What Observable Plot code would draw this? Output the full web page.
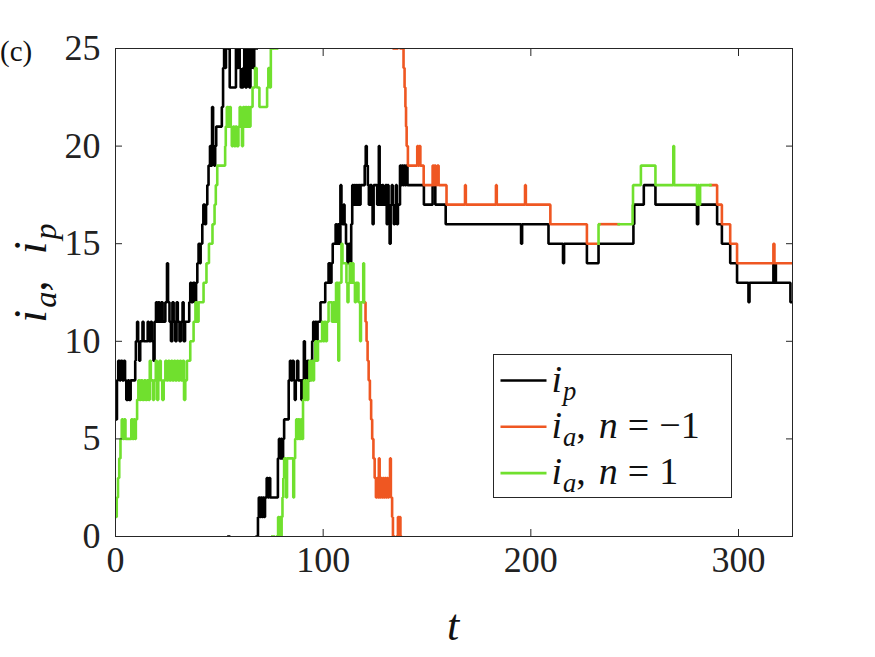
<!DOCTYPE html>
<html>
<head>
<meta charset="utf-8">
<script src="https://cdn.jsdelivr.net/npm/d3@7"></script>
<script src="https://cdn.jsdelivr.net/npm/@observablehq/plot@0.6"></script>
<style>
  body { margin: 0; background: #fff; }
  #chart { width: 875px; height: 657px; }
  svg text { white-space: pre; }
</style>
</head>
<body>
<div id="chart"></div>
<script>
// Tick positions
const xTicks = [0, 100, 200, 300];
const yTicks = [0, 5, 10, 15, 20, 25];

// i_p: times at which the index changes, and the new index (index wraps 25 <-> 0)
const ipT = [0,0.7,1.3,2,2.5,3.3,4,4.6,5.2,6,6.5,7.3,9.5,9.8,10.4,10.9,11.4,11.9,13,13.5,15.5,16,17,17.5,18.3,18.8,19.5,20,20.6,21.2,22,22.7,24,24.8,25.3,26,26.7,27.4,28,28.8,29.4,30,30.8,31.5,32.3,32.8,33.5,35.5,36,36.5,37.3,38.2,38.8,39.4,40,40.6,41,41.8,42.3,43,43.6,44.2,44.8,45.5,46,46.5,47,47.5,48,48.5,51.2,51.8,52.3,52.8,53.2,54.4,54.7,55,58,58.6,59.2,59.8,60.3,61.5,62,62.6,63.2,63.8,64.4,65,65.5,66.2,66.8,
  68,68.6,69,69.5,70,70.5,71,71.5,72,72.8,73.4,74,74.5,78.2,78.7,79.2,79.7,80.2,80.7,81.2,83.4,84,84.6,85.2,85.8,86.3,86.8,87.4,88,89.5,90,90.7,91.2,91.8,92.4,93,93.7,94.7,95.2,95.7,96.2,96.8,97.3,98.7,101,102.6,103.5,104,104.6,106,106.5,107,107.5,108.3,108.8,109.3,109.8,110.3,111,111.7,112.3,112.8,113.5,114,114.5,115,115.5,116,116.5,117,117.6,118,120,120.5,121,121.5,122,122.5,123.4,123.8,124.3,126,126.8,127.2,127.8,128.4,129,130,130.6,131,131.5,132,132.5,133,133.5,134,134.5,135,135.5,136,137,137.5,138,138.5,139,139.5,140,140.6,148.5,152.7,154,159,195.3,195.8,208.5,215.5,216,227,232.6,249.4,249.8,254.4,260,280,280.6,289.7,292,296,299.3,304.8,305.3,316.8,317.2,317.6,318,325,326];
const ipV = [6,8,9,8,9,8,9,8,7,8,7,8,9,10,11,10,9,10,11,10,11,10,11,10,9,11,12,11,12,11,12,11,12,14,12,11,10,12,11,10,12,11,10,11,12,10,11,12,13,12,13,12,13,14,15,14,15,16,17,16,17,18,19,20,19,22,20,19,20,21,22,24,25,24,25,0,25,23,25,24,25,24,23,24,25,23,24,25,23,24,25,24,25,
  0,1,2,1,2,1,2,1,2,3,2,3,2,4,5,4,5,4,5,6,8,9,8,9,8,7,8,9,8,7,8,10,9,8,9,8,9,10,11,10,11,10,11,12,13,14,13,14,15,16,15,16,15,18,17,16,17,16,15,14,15,14,16,18,17,18,17,18,17,18,17,18,19,20,19,18,17,18,17,16,18,17,20,18,17,18,17,18,16,18,17,15,17,18,17,16,17,18,16,17,19,18,19,18,19,18,19,18,17,18,17,16,15,16,15,14,15,14,15,16,17,18,17,16,17,16,15,14,13,12,13,14,13,14,13,12,12];

// i_a: change times, index, and direction n (+1 or -1)
const iaT = [0,0.6,1.2,1.8,2.4,3,3.6,4.2,4.8,7.6,8.2,8.8,9.4,9.8,10.4,11,11.6,12.2,13,13.8,14.5,15.2,16,16.5,17,18,18.6,19.4,20,20.6,21.2,21.8,22.5,23.2,24,24.6,25.4,26,26.8,27.4,28.2,28.8,29.6,30.2,31,31.6,32.4,33,33.6,34.4,36,37.6,38.5,39.2,40,42.4,43.8,45,46.7,47.7,48.3,49,52.8,53.1,53.6,54.3,55,55.5,56,56.6,57.2,57.8,58.4,59.2,59.8,60.4,60.9,61.4,62,62.6,63.2,63.8,64.4,65,66,67.2,68,69.3,73,73.6,74.2,74.8,75.5,76.2,77.8,
  78.3,78.7,79.2,79.6,80,80.4,80.8,81.2,82.2,82.6,85.6,86,86.5,87,87.5,88,88.6,89.2,89.8,90.3,90.8,91.3,91.8,92.3,92.8,93.4,94,94.5,95,95.6,96.2,97,97.5,99.5,100,100.6,101.2,101.8,102.6,104.2,104.8,105.4,106.2,107.3,107.7,108.8,109.3,111.2,111.7,112.2,112.8,113.4,114,114.6,115.3,115.8,117,117.8,118.2,119.3,
  119.7,120.4,120.9,121.4,121.9,122.5,123.1,123.6,124.2,124.8,125.4,125.9,126.4,126.8,127.2,127.7,128.2,128.7,129.2,129.7,130.2,130.7,131.2,131.7,132.2,132.6,133.2,133.6,134,135.6,136,136.4,136.8,137.2,137.4,138.7,139.2,139.6,139.9,140.2,140.8,145.3,145.8,146.3,146.8,148.4,152.7,153.2,153.6,154.2,155,155.6,159.4,168.3,168.7,183.2,183.6,197.2,197.6,209.4,227,
  232.6,232.6,233,242.3,249,249.2,253,260,268.6,269,280,280.5,281,281.5,
  286.5,289.7,292,296,299.3,316.8,317.3,326];
const iaV = [1,2,3,4,5,6,5,6,5,6,5,6,5,6,7,8,7,8,7,8,7,8,7,9,8,7,8,9,7,8,9,8,7,8,9,8,9,8,9,8,9,8,9,8,9,8,9,7,8,9,10,11,12,11,12,13,14,15,16,17,18,19,20,21,22,21,22,21,20,21,20,21,20,21,22,21,20,22,21,22,21,22,21,22,23,24,23,22,23,24,23,25,0,25,0,
  1,0,1,0,1,2,3,4,2,4,2,4,5,6,5,6,5,6,5,7,8,7,8,7,8,9,8,9,8,9,10,9,10,11,10,11,10,11,12,11,12,11,13,9,13,15,14,13,12,13,14,13,14,13,12,13,12,10,12,14,
  12,11,10,9,8,7,6,5,4,3,2,3,2,4,2,3,2,3,2,3,2,3,2,3,4,2,1,0,25,0,1,0,1,0,25,24,23,22,21,20,19,20,19,20,19,18,19,18,19,18,19,18,17,18,17,18,17,18,17,16,15,
  15,16,16,16,17,18,19,18,20,18,17,18,17,18,
  18,17,16,15,14,15,14,14];
const iaN = [
  ...Array(95).fill(1),
  ...Array(60).fill(1),
  ...Array(61).fill(-1),
  1, 1, -1, 1, 1, 1, 1, 1, 1, 1, 1, 1, 1, 1,
  -1, -1, -1, -1, -1, -1, -1, -1];

const BLACK = "#000000", ORANGE = "#ef5722", GREEN = "#70e02e";

// Turn change points into step-line pieces; a new piece starts when the
// direction flips or the index wraps around between 25 and 0.
function steps(T, V, N) {
  const pts = [];
  let run = 0;
  const dir = i => (N ? N[i] : 1);
  for (let i = 0; i < T.length; i++) {
    if (i > 0) {
      const wrap = Math.abs(V[i] - V[i - 1]) > 12;
      if (wrap) {
        pts.push({t: T[i], v: V[i - 1], n: dir(i - 1), run});
        run++;
      } else if (dir(i) !== dir(i - 1)) {
        pts.push({t: T[i], v: V[i], n: dir(i - 1), run});
        run++;
      }
    }
    pts.push({t: T[i], v: V[i], n: dir(i), run});
  }
  return pts;
}

const ipPts = steps(ipT, ipV, null);
const iaPts = steps(iaT, iaV, iaN);

const lineOpts = {x: "t", y: "v", z: "run", curve: "step-after", strokeWidth: 2.6, clip: true, strokeLinejoin: "miter", strokeLinecap: "square"};

const svg = Plot.plot({
  width: 875,
  height: 657,
  marginLeft: 115,
  marginRight: 83,
  marginTop: 48,
  marginBottom: 121,
  x: {domain: [0, 326]},
  y: {domain: [0, 25]},
  style: {fontFamily: "'Liberation Serif', 'DejaVu Serif', serif", fontSize: "35px", color: "#222", background: "white", overflow: "visible"},
  marks: [
    Plot.line(ipPts, {...lineOpts, stroke: BLACK}),
    Plot.line(iaPts.filter(d => d.n < 0), {...lineOpts, stroke: ORANGE}),
    Plot.line(iaPts.filter(d => d.n > 0), {...lineOpts, stroke: GREEN}),
    Plot.frame({stroke: "#262626", strokeWidth: 1}),
    Plot.axisX({ticks: xTicks, anchor: "bottom", tickSize: 0, tickPadding: 10, label: null, fontSize: 36}),
    Plot.axisX({ticks: xTicks, anchor: "bottom", tickSize: -7, text: null, label: null, stroke: "#262626"}),
    Plot.axisX({ticks: xTicks, anchor: "top", tickSize: -7, text: null, label: null, stroke: "#262626"}),
    Plot.axisY({ticks: yTicks, anchor: "left", tickSize: 0, tickPadding: 15, label: null, fontSize: 36}),
    Plot.axisY({ticks: yTicks, anchor: "left", tickSize: -7, text: null, label: null, stroke: "#262626"}),
    Plot.axisY({ticks: yTicks, anchor: "right", tickSize: -7, text: null, label: null, stroke: "#262626"})
  ]
});

document.getElementById("chart").appendChild(svg);

const root = d3.select(svg);
const SERIF = "'Liberation Serif', 'DejaVu Serif', serif";

// Write math-style text: parts are [text, italic?, subscript?, extra gap before]
function mathText(sel, parts, fs, anchor = "start") {
  const t = sel.append("text")
    .attr("font-family", SERIF).attr("font-size", fs).attr("fill", "#111")
    .attr("text-anchor", anchor).style("text-anchor", anchor);
  let shifted = false;
  for (const [s, it, sub, gap] of parts) {
    const ts = t.append("tspan").text(s);
    if (it) ts.attr("font-style", "italic");
    if (gap) ts.attr("dx", gap);
    if (sub && !shifted) { ts.attr("font-size", fs * 0.7).attr("dy", fs * 0.22); shifted = true; }
    else if (!sub && shifted) { ts.attr("dy", -fs * 0.22); shifted = false; }
    else if (sub) ts.attr("font-size", fs * 0.7);
  }
  return t;
}

// Panel tag
mathText(root.append("g").attr("transform", "translate(0,61)"), [["(c)"]], 29);

// Axis labels
mathText(root.append("g").attr("transform", "translate(453,640)"), [["t", true]], 44, "middle");
mathText(root.append("g").attr("transform", "translate(46,273) rotate(-90)"),
  [["i", true], ["a", true, true, 2], [","], ["i", true, false, 26], ["p", true, true, 2]], 46, "middle");

// Legend
const legendItems = [
  {color: BLACK, parts: [["i", true], ["p", true, true, 1]]},
  {color: ORANGE, parts: [["i", true], ["a", true, true, 1], [","], ["n", true, false, 13], ["=", false, false, 10], ["−", false, false, 10], ["1"]]},
  {color: GREEN, parts: [["i", true], ["a", true, true, 1], [","], ["n", true, false, 13], ["=", false, false, 10], ["1", false, false, 10]]}
];
const lg = root.append("g").attr("transform", "translate(493.5,354.5)");
lg.append("rect").attr("width", 238).attr("height", 143).attr("fill", "white").attr("stroke", "#262626").attr("stroke-width", 1);
legendItems.forEach((item, i) => {
  const y = 26 + i * 46.3;
  lg.append("line").attr("x1", 7).attr("x2", 53).attr("y1", y).attr("y2", y).attr("stroke", item.color).attr("stroke-width", 2.6);
  mathText(lg.append("g").attr("transform", `translate(58,${y + 11})`), item.parts, 38);
});
</script>
</body>
</html>
